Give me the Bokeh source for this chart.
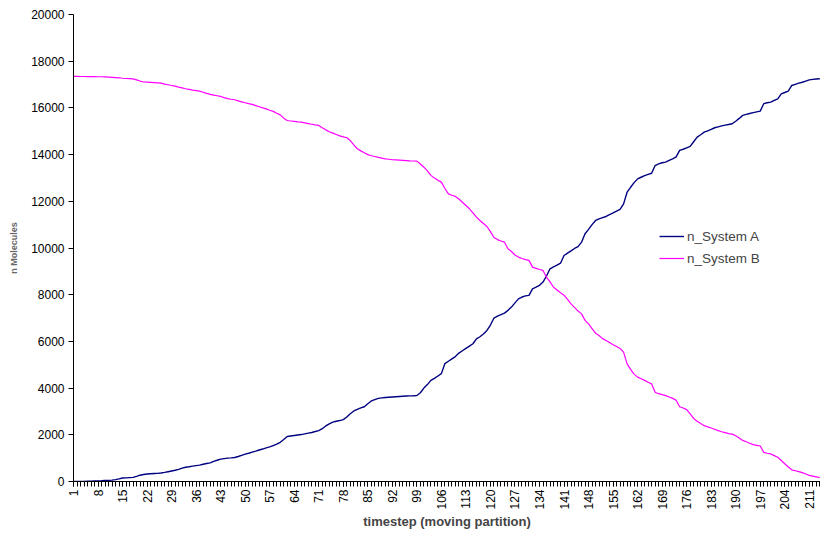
from bokeh.plotting import figure
from bokeh.models import Range1d, FixedTicker, Legend, LegendItem, ColumnDataSource
from bokeh.embed import file_html
from bokeh.resources import INLINE
import math

timesteps = list(range(1, 215))

n_system_a = [
    0, 0, 5, 5, 10, 15, 20, 25, 30, 40,
    50, 60, 80, 110, 150, 155, 165, 175, 220, 270,
    300, 320, 330, 340, 350, 365, 390, 420, 450, 480,
    520, 570, 610, 630, 660, 680, 700, 740, 770, 800,
    860, 910, 960, 980, 1000, 1010, 1030, 1070, 1120, 1170,
    1210, 1260, 1300, 1350, 1390, 1440, 1480, 1540, 1600, 1680,
    1800, 1930, 1950, 1970, 1990, 2010, 2040, 2070, 2100, 2140,
    2180, 2260, 2380, 2470, 2540, 2580, 2610, 2650, 2760, 2900,
    3020, 3090, 3150, 3200, 3330, 3450, 3510, 3560, 3580, 3600,
    3610, 3620, 3630, 3640, 3650, 3660, 3665, 3670, 3680, 3800,
    4000, 4150, 4330, 4420, 4520, 4620, 5050, 5150, 5250, 5350,
    5500, 5600, 5700, 5800, 5900, 6110, 6200, 6320, 6470, 6700,
    7000, 7080, 7150, 7210, 7330, 7470, 7650, 7820, 7900, 7950,
    7970, 8250, 8320, 8400, 8540, 8800, 9110, 9190, 9270, 9350,
    9680, 9780, 9880, 9980, 10060, 10250, 10610, 10800, 11000, 11180,
    11250, 11300, 11350, 11430, 11500, 11580, 11650, 11890, 12390, 12600,
    12800, 12960, 13030, 13100, 13150, 13200, 13530, 13600, 13650, 13680,
    13750, 13820, 13900, 14180, 14230, 14290, 14350, 14550, 14750, 14850,
    14960, 15020, 15080, 15150, 15190, 15230, 15260, 15290, 15320, 15430,
    15550, 15680, 15720, 15760, 15800, 15830, 15860, 16180, 16220, 16250,
    16320, 16390, 16600, 16660, 16720, 16960, 17010, 17060, 17100, 17150,
    17200, 17220, 17240, 17250,
]

n_system_b = [
    17350, 17350, 17345, 17345, 17340, 17340, 17340, 17335, 17335, 17330,
    17320, 17310, 17300, 17290, 17270, 17260, 17250, 17240, 17200, 17150,
    17110, 17100, 17090, 17080, 17070, 17060, 17020, 16990, 16960, 16930,
    16890, 16860, 16820, 16790, 16760, 16740, 16720, 16670, 16620, 16580,
    16550, 16520, 16490, 16440, 16400, 16370, 16350, 16300, 16260, 16220,
    16180, 16150, 16100, 16050, 16000, 15960, 15900, 15850, 15770, 15700,
    15560, 15460, 15440, 15420, 15400, 15390, 15360, 15330, 15300, 15270,
    15250, 15150, 15060, 14980, 14920, 14860, 14800, 14760, 14720, 14600,
    14420, 14250, 14160, 14080, 14000, 13950, 13920, 13880, 13850, 13820,
    13800, 13780, 13770, 13760, 13750, 13740, 13730, 13725, 13720, 13600,
    13460, 13300, 13110, 13000, 12900, 12820, 12550, 12320, 12260, 12210,
    12100, 11960, 11820, 11680, 11500, 11320, 11180, 11050, 10920, 10700,
    10450, 10360, 10300, 10250, 9970, 9850, 9700, 9610, 9550, 9500,
    9470, 9180, 9130, 9080, 9040, 8750, 8550, 8320, 8200, 8080,
    7980, 7800, 7610, 7460, 7300, 7180, 6900, 6750, 6550, 6350,
    6250, 6120, 6040, 5950, 5860, 5780, 5700, 5540, 5040, 4800,
    4600, 4470, 4400, 4330, 4250, 4180, 3820, 3760, 3720, 3680,
    3620, 3560, 3480, 3200, 3150, 3080, 2900, 2700, 2580, 2480,
    2390, 2340, 2290, 2240, 2180, 2130, 2090, 2050, 2030, 1960,
    1860, 1760, 1700, 1640, 1580, 1550, 1520, 1250, 1210, 1180,
    1110, 1040, 900, 760, 620, 500, 460, 420, 380, 320,
    260, 230, 200, 170,
]

series_names = ["n_System A", "n_System B"]
x_tick_labels = list(range(1, 215, 7))
y_ticks = list(range(0, 20001, 2000))

FONT = "Liberation Sans"

p = figure(width=820, height=533, output_backend="svg", toolbar_location=None,
           x_range=Range1d(1, 214.2), y_range=Range1d(0, 20000),
           min_border_left=73, min_border_right=0, min_border_top=14,
           min_border_bottom=52)
p.outline_line_color = None
p.xgrid.visible = False
p.ygrid.visible = False
p.background_fill_color = "white"

src = ColumnDataSource(dict(t=timesteps, a=n_system_a, b=n_system_b))
ra = p.line("t", "a", source=src, line_color="#000080", line_width=1.4)
rb = p.line("t", "b", source=src, line_color="#FF00FF", line_width=1.2)

# x axis
xa = p.xaxis[0]
xa.ticker = FixedTicker(ticks=x_tick_labels, minor_ticks=timesteps)
xa.major_label_orientation = math.pi / 2
xa.major_label_text_font = FONT
xa.major_label_text_font_size = "12px"
xa.major_label_text_color = "black"
xa.major_tick_in = 0
xa.major_tick_out = 5
xa.minor_tick_in = 0
xa.minor_tick_out = 5
xa.minor_tick_line_color = "black"
xa.major_label_standoff = 3
xa.axis_line_color = "black"
xa.axis_label = "timestep (moving partition)"
xa.axis_label_text_font = FONT
xa.axis_label_text_font_style = "bold"
xa.axis_label_text_font_size = "13px"
xa.axis_label_standoff = 1

ya = p.yaxis[0]
ya.ticker = FixedTicker(ticks=y_ticks, minor_ticks=[])
ya.major_label_text_font = FONT
ya.major_label_text_font_size = "12px"
ya.major_label_text_color = "black"
ya.major_tick_in = 0
ya.major_tick_out = 5
ya.major_label_standoff = 4
ya.axis_line_color = "black"
ya.axis_label = "n Molecules"
ya.axis_label_text_font = FONT
ya.axis_label_text_font_style = "bold"
ya.axis_label_text_font_size = "9px"
ya.axis_label_text_color = "#666666"
ya.axis_label_standoff = 9

legend = Legend(items=[LegendItem(label=series_names[0], renderers=[ra]),
                       LegendItem(label=series_names[1], renderers=[rb])],
                location=(586, 212), border_line_color=None,
                background_fill_alpha=0, padding=0, margin=0, spacing=0,
                label_text_font=FONT, label_text_font_size="13.5px",
                glyph_width=25, glyph_height=22, label_height=22,
                label_standoff=3)
p.add_layout(legend)

open("out.html", "w").write(file_html(p, INLINE))
